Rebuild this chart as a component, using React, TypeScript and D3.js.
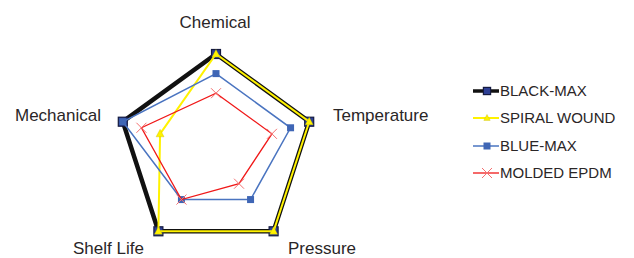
import React from "react";
import * as d3 from "d3";

const axes = ["Chemical", "Temperature", "Pressure", "Shelf Life", "Mechanical"];
const blackMax = [5, 5, 5, 5, 5];
const spiralWound = [5, 5, 5, 5, 3];
const blueMax = [4, 4, 3, 3, 5];
const moldedEpdm = [3, 3, 2, 3, 4];
const seriesNames = ["BLACK-MAX", "SPIRAL WOUND", "BLUE-MAX", "MOLDED EPDM"];
const maxValue = 5;

const W = 634, H = 258;
const cx = 216, cy = 152, R = 98;

export default function App() {
  const r = d3.scaleLinear().domain([0, maxValue]).range([0, R]);
  const angle = (i: number) => -Math.PI / 2 + (i * 2 * Math.PI) / axes.length;
  const pt = (v: number, i: number): [number, number] => [
    cx + r(v) * Math.cos(angle(i)),
    cy + r(v) * Math.sin(angle(i)),
  ];
  const line = d3.line<[number, number]>().curve(d3.curveLinearClosed);

  const data = [blackMax, spiralWound, blueMax, moldedEpdm];
  const styles = [
    { stroke: "#111111", width: 4.5, marker: "bigsq" },
    { stroke: "#FFF200", width: 2, marker: "tri" },
    { stroke: "#4A74C0", width: 1.5, marker: "sq" },
    { stroke: "#F01818", width: 1.3, marker: "x" },
  ];

  const marker = (kind: string, x: number, y: number, key: string | number, small = false) => {
    const k = small ? 0.8 : 1;
    if (kind === "bigsq")
      return <rect key={key} x={x - 4.5 * k} y={y - 4.5 * k} width={9 * k} height={9 * k} fill="#2D3F94" stroke="#141a40" strokeWidth={1.2} />;
    if (kind === "sq")
      return <rect key={key} x={x - 3.5} y={y - 3.5} width={7} height={7} fill="#3F66B5" />;
    if (kind === "tri")
      return <path key={key} d={`M${x},${y - 4.5 * k}L${x + 4 * k},${y + 3 * k}L${x - 4 * k},${y + 3 * k}Z`} fill="#FFF200" stroke="#b5ab00" strokeWidth={0.3} />;
    return (
      <path key={key} d={`M${x - 5},${y - 5}L${x + 5},${y + 5}M${x + 5},${y - 5}L${x - 5},${y + 5}`} stroke="#F47070" strokeWidth={1} />
    );
  };

  const labelPos: { x: number; y: number; anchor: string }[] = [
    { x: 215, y: 27.5, anchor: "middle" },
    { x: 333, y: 121, anchor: "start" },
    { x: 288, y: 254, anchor: "start" },
    { x: 73, y: 254, anchor: "start" },
    { x: 101, y: 121, anchor: "end" },
  ];

  const legendY = [91, 118, 146, 173];

  return (
    <svg width={W} height={H} style={{ position: "absolute", left: 0, top: 0, background: "#fff" }}
      fontFamily="'Liberation Sans', Arial, sans-serif">
      {data.map((vals, s) => {
        const pts = vals.map((v, i) => pt(v, i));
        return (
          <g key={s}>
            <path d={line(pts) || ""} fill="none" stroke={styles[s].stroke} strokeWidth={styles[s].width} strokeLinejoin="miter" />
            {pts.map((p, i) => marker(styles[s].marker, p[0], p[1], i))}
          </g>
        );
      })}
      {axes.map((a, i) => (
        <text key={a} x={labelPos[i].x} y={labelPos[i].y} textAnchor={labelPos[i].anchor} fontSize={17} fill="#2a2627">
          {a}
        </text>
      ))}
      {seriesNames.map((n, s) => (
        <g key={n}>
          <line x1={473} x2={499} y1={legendY[s]} y2={legendY[s]} stroke={styles[s].stroke}
            strokeWidth={s === 0 ? 3.5 : styles[s].width} />
          {marker(styles[s].marker, 487, legendY[s], "m", true)}
          <text x={500} y={legendY[s] + 5.3} fontSize={15} fill="#2a2627">{n}</text>
        </g>
      ))}
    </svg>
  );
}
